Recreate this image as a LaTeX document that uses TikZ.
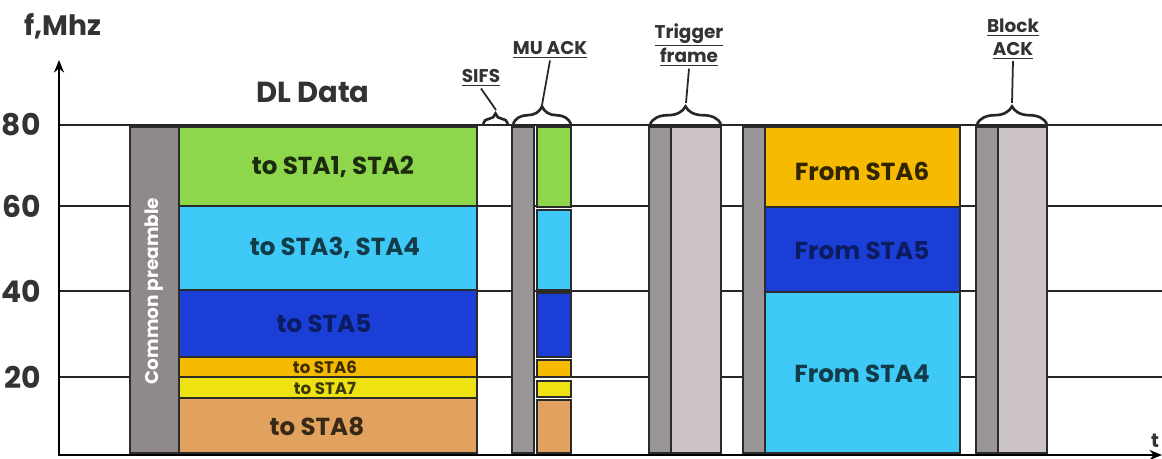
\documentclass[tikz,border=0pt]{standalone}
\usepackage{fontspec}
\setmainfont{Poppins}
\usetikzlibrary{arrows.meta, decorations.pathreplacing}
\definecolor{slotgreen}{HTML}{8ED64B}
\definecolor{slotsky}{HTML}{3FC9F7}
\definecolor{slotblue}{HTML}{1B3FD6}
\definecolor{slotorange}{HTML}{F6BA00}
\definecolor{slotyellow}{HTML}{EEE213}
\definecolor{slottan}{HTML}{E0A25E}
\definecolor{pregray}{HTML}{8F898A}
\definecolor{ackdark}{HTML}{9A9596}
\definecolor{acklight}{HTML}{CBC3C4}
\definecolor{edgegray}{HTML}{2B2B2B}
\definecolor{inkgray}{HTML}{333333}
\tikzset{
    gridln/.style={line width=0.8pt, black!85},
    axisln/.style={line width=1.6pt, black, -{Stealth[length=2.5mm, width=2mm]}},
    slot/.style={draw=edgegray, line width=1.1pt},
    slotlbl/.style={font=\fontsize{14}{16}\selectfont\bfseries},
    smalllbl/.style={font=\fontsize{9.5}{10}\selectfont\bfseries, inner sep=0pt},
    ticklbl/.style={font=\fontsize{17}{19}\selectfont\bfseries, text=inkgray, anchor=east},
    bracelbl/.style={font=\fontsize{10.5}{13}\selectfont\bfseries, align=center, text=inkgray, inner sep=1pt},
    brc/.style={decorate, decoration={brace, amplitude=#1}, line width=1.5pt, black!85},
    brc/.default=10pt,
    leader/.style={line width=1pt, black!85},
}

\begin{document}
\begin{tikzpicture}[x=0.02cm, y=-0.02cm]
\useasboundingbox (0,0) rectangle (1162,459);

% -- grid and axes --
\foreach \yy in {125, 206, 291, 377}
    \draw[gridln] (59,\yy) -- (1162,\yy);
\node[ticklbl] (t80) at (47,125) {80};
\node[ticklbl] (t60) at (47,206) {60};
\node[ticklbl] (t40) at (47,291) {40};
\node[ticklbl] (t20) at (47,377) {20};
\node[font=\fontsize{16}{18}\selectfont\bfseries, text=inkgray] (flbl) at (63,26) {f,Mhz};
\node[font=\fontsize{11}{12}\selectfont\bfseries, text=inkgray] (tlbl) at (1155,441) {t};

% -- common preamble --
\draw[slot, fill=pregray] (130,127) rectangle (179,453);
\node[font=\fontsize{10.5}{12}\selectfont\bfseries, text=white, rotate=90] (pre) at (154,291) {Common preamble};

% -- DL data --
\node[font=\fontsize{16.5}{19}\selectfont\bfseries, text=inkgray] (dl) at (313,92) {DL Data};
\draw[slot, fill=slotgreen] (179,127) rectangle (477,206);
\draw[slot, fill=slotsky] (179,206) rectangle (477,290);
\draw[slot, fill=slotblue] (179,290) rectangle (477,357);
\draw[slot, fill=slotorange] (179,357) rectangle (477,377);
\draw[slot, fill=slotyellow] (179,377) rectangle (477,398);
\draw[slot, fill=slottan] (179,398) rectangle (477,453);
\node[slotlbl, text=slotgreen!20!black] (dl12) at (333,167) {to STA1, STA2};
\node[slotlbl, text=slotsky!30!black] (dl34) at (335,248) {to STA3, STA4};
\node[slotlbl, text=slotblue!45!black] (dl5) at (324,324) {to STA5};
\node[smalllbl, text=slotorange!25!black] (dl6) at (325,367) {to STA6};
\node[smalllbl, text=slotyellow!25!black] (dl7) at (325,388) {to STA7};
\node[slotlbl, text=slottan!25!black] (dl8) at (317,427) {to STA8};

% -- MU ACK --
\draw[slot, fill=ackdark] (512,127) rectangle (534,453);
\draw[slot, fill=slotgreen] (537,127) rectangle (571,207);
\draw[slot, fill=slotsky] (537,210) rectangle (571,290);
\draw[slot, fill=slotblue] (537,293) rectangle (571,357);
\draw[slot, fill=slotorange] (537,360) rectangle (571,377);
\draw[slot, fill=slotyellow] (537,381) rectangle (571,397);
\draw[slot, fill=slottan] (537,400) rectangle (571,453);

% -- trigger frame --
\draw[slot, fill=ackdark] (649,127) rectangle (671,453);
\draw[slot, fill=acklight] (671,127) rectangle (721,453);

% -- UL data --
\draw[slot, fill=ackdark] (743,127) rectangle (765,453);
\draw[slot, fill=slotorange] (765,127) rectangle (960,207);
\draw[slot, fill=slotblue] (765,207) rectangle (960,292);
\draw[slot, fill=slotsky] (765,292) rectangle (960,453);
\node[slotlbl, text=slotorange!20!black] (ul6) at (862,171) {From STA6};
\node[slotlbl, text=slotblue!45!black] (ul5) at (862,251) {From STA5};
\node[slotlbl, text=slotsky!30!black] (ul4) at (862,374) {From STA4};

% -- block ack --
\draw[slot, fill=ackdark] (976,127) rectangle (998,453);
\draw[slot, fill=acklight] (998,127) rectangle (1047,453);

% -- braces --
\draw[brc=6pt] (483,124) -- (508,124);
\draw[brc] (513,124) -- (571,124);
\draw[brc] (650,124) -- (721,124);
\draw[brc] (977,124) -- (1047,124);
\coordinate (sifstip) at (496,110);
\coordinate (mutip) at (542,105);
\coordinate (trigtip) at (686,103);
\coordinate (backtip) at (1012,103);

\node[bracelbl] (sifs) at (481,78) {\underline{SIFS}};
\node[bracelbl] (muack) at (550,50) {\underline{MU ACK}};
\node[bracelbl] (trig) at (689,45) {\underline{Trigger}\\\underline{frame}};
\node[bracelbl] (back) at (1013,39) {\underline{Block}\\\underline{ACK}};

\draw[leader] (sifs.south) -- (sifstip);
\draw[leader] (muack.south) -- (mutip);
\draw[leader] (trig.south) -- (trigtip);
\draw[leader] (back.south) -- (backtip);

% -- axes on top --
\draw[axisln] (59,456) -- (59,60);
\draw[axisln] (58,455) -- (1162,455);

\end{tikzpicture}
\end{document}
